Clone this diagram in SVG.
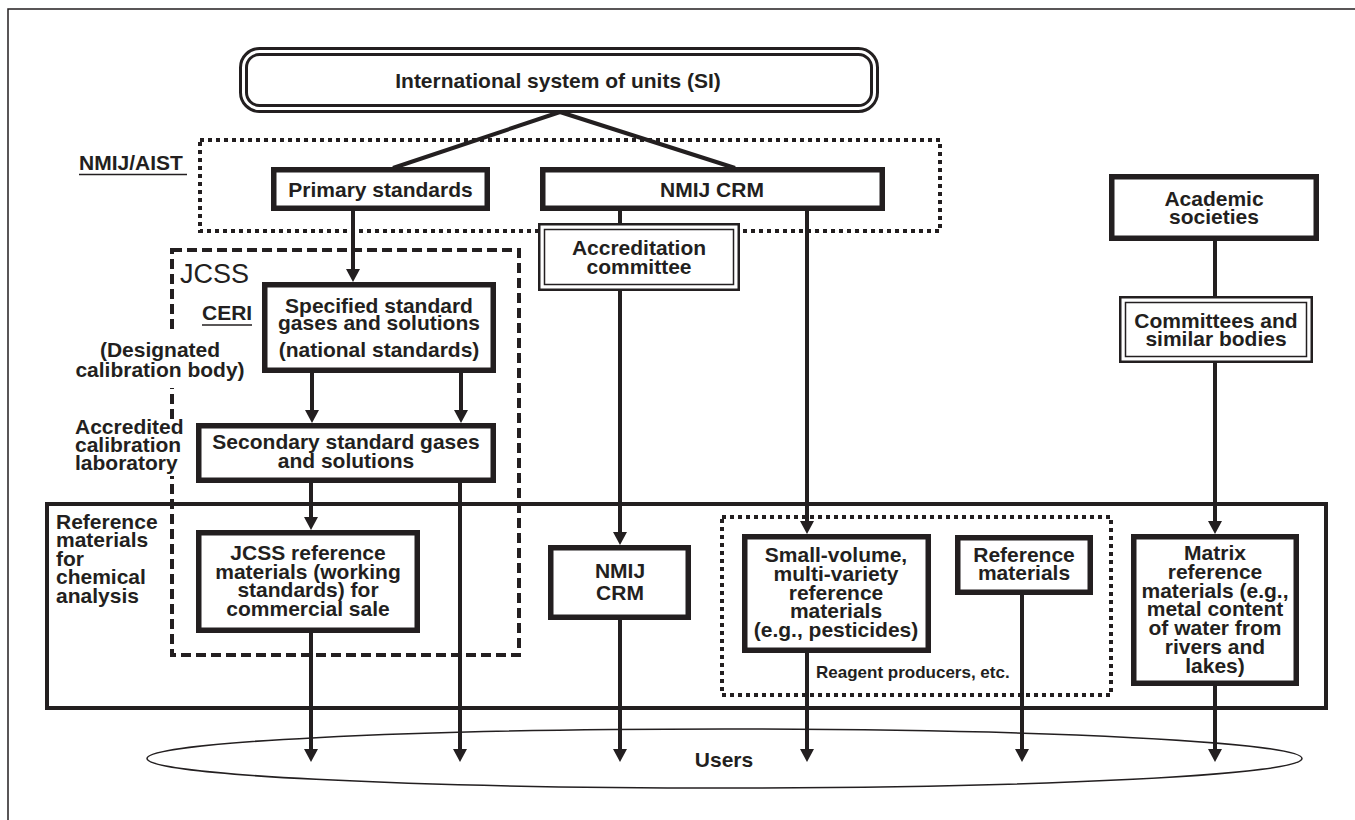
<svg xmlns="http://www.w3.org/2000/svg" width="1355" height="820" viewBox="0 0 1355 820">
<style>
.t{font-family:"Liberation Sans",Arial,Helvetica,sans-serif;font-weight:bold;font-size:21px;fill:#231f20;text-anchor:middle}
.l{text-anchor:start}
.box{fill:#fff;stroke:#231f20;stroke-width:5.5}
.dbo{fill:#fff;stroke:#231f20;stroke-width:2.5}
.dbi{fill:none;stroke:#231f20;stroke-width:1.5}
.dot{fill:none;stroke:#231f20;stroke-width:4;stroke-dasharray:4 4}
.dash{fill:none;stroke:#231f20;stroke-width:4;stroke-dasharray:10 5}
.c{fill:none;stroke:#231f20;stroke-width:4}
.ca{fill:none;stroke:#231f20;stroke-width:4;marker-end:url(#ah)}
.u{stroke:#231f20;stroke-width:1.5}
</style>
<defs>
<marker id="ah" markerUnits="userSpaceOnUse" markerWidth="13" markerHeight="14" viewBox="0 0 13 14" refX="5" refY="7" orient="auto">
<path d="M0,0 L13,7 L0,14 Z" fill="#231f20"/>
</marker>
</defs>
<rect x="0" y="0" width="1355" height="820" fill="#fff"/>
<path d="M8,830 L8,9 L1365,9" fill="none" stroke="#231f20" stroke-width="1.5"/>

<g id="frames">
<rect id="ref-area" x="47" y="504" width="1279" height="204" fill="none" stroke="#231f20" stroke-width="4"/>
<rect id="nmij-aist" class="dot" x="200" y="140" width="740" height="91"/>
<rect id="reagent" class="dot" x="722" y="517" width="389" height="178"/>
<rect id="jcss" class="dash" x="172" y="250" width="347" height="405"/>
<rect x="164" y="330" width="16" height="58" fill="#fff"/>
<rect x="164" y="420" width="16" height="56" fill="#fff"/>
</g>

<g id="users">
<ellipse cx="724.5" cy="758.5" rx="577.5" ry="29.5" fill="#fff" stroke="#231f20" stroke-width="1.5"/>
<text class="t" x="724" y="767">Users</text>
</g>

<g id="labels">
<text class="t l" x="79" y="170">NMIJ/AIST</text>
<line class="u" x1="79" y1="174.5" x2="187" y2="174.5"/>
<text x="180" y="283" style="font-family:'Liberation Sans',Arial,sans-serif;font-size:27px;fill:#231f20">JCSS</text>
<text class="t l" x="202" y="320">CERI</text>
<line class="u" x1="202" y1="325" x2="252" y2="325"/>
<text class="t" x="160" y="357">(Designated</text>
<text class="t" x="160" y="377">calibration body)</text>
<text class="t l" x="75" y="434">Accredited</text>
<text class="t l" x="75" y="452">calibration</text>
<text class="t l" x="75" y="470">laboratory</text>
<text class="t l" x="56" y="529">Reference</text>
<text class="t l" x="56" y="547">materials</text>
<text class="t l" x="56" y="566">for</text>
<text class="t l" x="56" y="584">chemical</text>
<text class="t l" x="56" y="603">analysis</text>
<text class="t l" x="816" y="678" style="font-size:17px">Reagent producers, etc.</text>
</g>

<g id="si">
<rect x="240.5" y="48.5" width="637" height="63" rx="19" fill="#fff" stroke="#231f20" stroke-width="3"/>
<rect x="246.5" y="54.5" width="625" height="51" rx="13" fill="none" stroke="#231f20" stroke-width="3"/>
<text class="t" x="558" y="87.5">International system of units (SI)</text>
</g>

<g id="primary">
<rect class="box" x="273.75" y="169.75" width="213.5" height="38.5"/>
<text class="t" x="380.5" y="196.5">Primary standards</text>
</g>

<g id="nmij-crm">
<rect class="box" x="542.75" y="169.75" width="339.5" height="38.5"/>
<text class="t" x="712" y="196.5">NMIJ CRM</text>
</g>

<g id="academic">
<rect class="box" x="1111.75" y="176.75" width="204.5" height="61.5"/>
<text class="t" x="1214" y="205.5">Academic</text>
<text class="t" x="1214" y="224">societies</text>
</g>

<g id="accreditation">
<rect class="dbo" x="539.25" y="224.25" width="199.5" height="65.5"/>
<rect class="dbi" x="544.5" y="229.5" width="189" height="55"/>
<text class="t" x="639" y="255">Accreditation</text>
<text class="t" x="639" y="273.5">committee</text>
</g>

<g id="committees">
<rect class="dbo" x="1120.25" y="297.25" width="191.5" height="64.5"/>
<rect class="dbi" x="1125.5" y="302.5" width="181" height="54"/>
<text class="t" x="1216" y="327.5">Committees and</text>
<text class="t" x="1216" y="346">similar bodies</text>
</g>

<g id="specified">
<rect class="box" x="264.75" y="284.75" width="228.5" height="85.5"/>
<text class="t" x="379" y="313">Specified standard</text>
<text class="t" x="379" y="330">gases and solutions</text>
<text class="t" x="379" y="357">(national standards)</text>
</g>

<g id="secondary">
<rect class="box" x="198.75" y="425.75" width="294.5" height="54.5"/>
<text class="t" x="346" y="449">Secondary standard gases</text>
<text class="t" x="346" y="468">and solutions</text>
</g>

<g id="jcss-rm">
<rect class="box" x="198.75" y="532.75" width="218.5" height="97.5"/>
<text class="t" x="308" y="560">JCSS reference</text>
<text class="t" x="308" y="578.5">materials (working</text>
<text class="t" x="308" y="597">standards) for</text>
<text class="t" x="308" y="615.5">commercial sale</text>
</g>

<g id="nmij-crm-2">
<rect class="box" x="550.75" y="547.75" width="137.5" height="69.5"/>
<text class="t" x="620" y="578">NMIJ</text>
<text class="t" x="620" y="600">CRM</text>
</g>

<g id="small-volume">
<rect class="box" x="744.75" y="536.75" width="183.5" height="113.5"/>
<text class="t" x="836" y="562">Small-volume,</text>
<text class="t" x="836" y="581">multi-variety</text>
<text class="t" x="836" y="600">reference</text>
<text class="t" x="836" y="618">materials</text>
<text class="t" x="836" y="637">(e.g., pesticides)</text>
</g>

<g id="ref-materials">
<rect class="box" x="957.75" y="537.75" width="132.5" height="54.5"/>
<text class="t" x="1024" y="562">Reference</text>
<text class="t" x="1024" y="580">materials</text>
</g>

<g id="matrix">
<rect class="box" x="1133.75" y="536.75" width="162.5" height="146.5"/>
<text class="t" x="1215" y="560">Matrix</text>
<text class="t" x="1215" y="578.8">reference</text>
<text class="t" x="1215" y="597.6">materials (e.g.,</text>
<text class="t" x="1215" y="616.4">metal content</text>
<text class="t" x="1215" y="635.2">of water from</text>
<text class="t" x="1215" y="654">rivers and</text>
<text class="t" x="1215" y="672.8">lakes)</text>
</g>

<g id="connectors">
<path class="c" d="M560,112 L393,168"/>
<path class="c" d="M560,112 L735,168"/>
<path class="ca" d="M353,211 L353,274"/>
<path class="c" d="M620,211 L620,224"/>
<path class="ca" d="M620,291 L620,537"/>
<path class="ca" d="M807,211 L807,526"/>
<path class="ca" d="M312,373 L312,415"/>
<path class="ca" d="M461,373 L461,415"/>
<path class="ca" d="M311,483 L311,522"/>
<path class="ca" d="M460,483 L460,754"/>
<path class="ca" d="M311,633 L311,754"/>
<path class="ca" d="M620,620 L620,754"/>
<path class="ca" d="M807,653 L807,754"/>
<path class="ca" d="M1022,595 L1022,754"/>
<path class="ca" d="M1215,686 L1215,754"/>
<path class="c" d="M1215,241 L1215,297"/>
<path class="ca" d="M1215,363 L1215,526"/>
</g>
</svg>
